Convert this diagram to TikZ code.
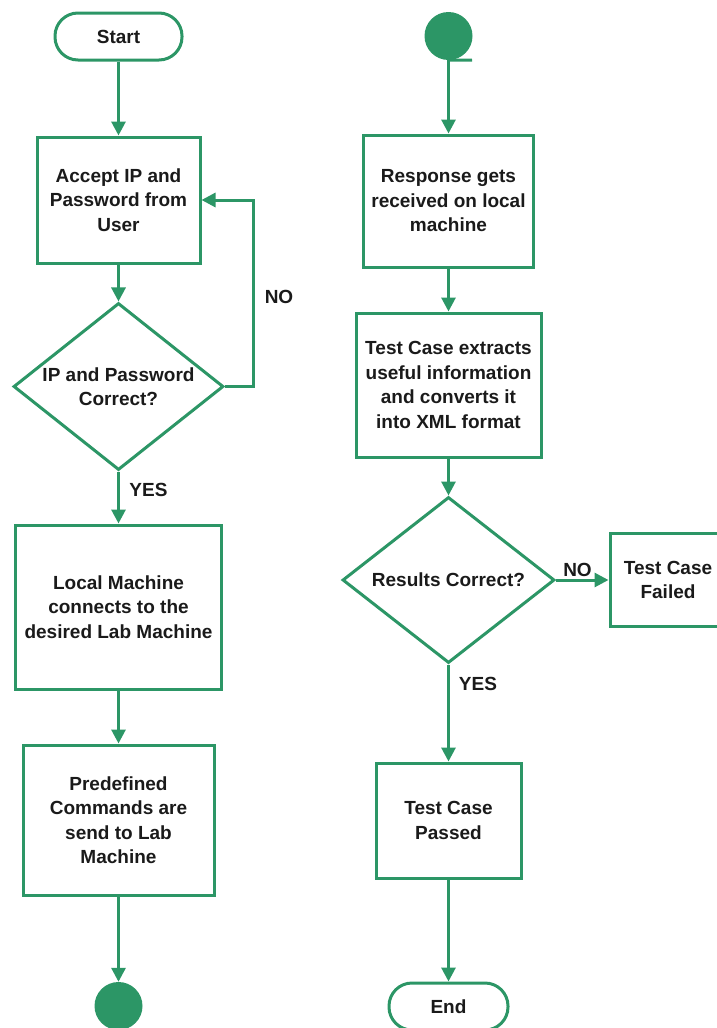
\documentclass[tikz,border=0pt]{standalone}
\usepackage{fontspec}
\setmainfont{Liberation Sans}
\usetikzlibrary{arrows.meta,shapes.geometric}
\definecolor{flowgreen}{RGB}{44,150,102}
\definecolor{ink}{RGB}{26,26,26}
\begin{document}
\begin{tikzpicture}[x=1pt,y=-1pt,
  every node/.style={font=\fontsize{19}{24.5}\selectfont\bfseries, text=ink},
  stepbox/.style={draw=flowgreen, line width=3pt, rectangle, inner sep=0pt, align=center},
  decision/.style={draw=flowgreen, line width=3pt, diamond, inner sep=0pt, align=center},
  terminal/.style={draw=flowgreen, line width=3pt, rectangle, rounded corners=23pt,
    minimum height=47pt, inner sep=0pt},
  connector/.style={fill=flowgreen, circle, minimum size=48pt, inner sep=0pt},
  flow/.style={draw=flowgreen, line width=3pt, -{Triangle[length=14pt,width=14pt]}},
  plain/.style={draw=flowgreen, line width=3pt},
  tag/.style={inner sep=0pt}]
\useasboundingbox (0,0) rectangle (717,1028);
\clip (0,0) rectangle (717,1028);

% left column
\node[terminal, minimum width=127pt] (start) at (118.5,36.5) {Start};
\node[stepbox, minimum width=163pt, minimum height=126pt] (accept) at (118.5,200)
  {Accept IP and\\Password from\\User};
\node[decision, minimum width=210pt, minimum height=167pt] (check) at (118.5,386.5)
  {\makebox[0pt]{IP and Password}\\\makebox[0pt]{Correct?}};
\node[stepbox, minimum width=206pt, minimum height=164pt] (connect) at (118.5,607)
  {Local Machine\\connects to the\\desired Lab Machine};
\node[stepbox, minimum width=191pt, minimum height=150pt] (send) at (118.5,820)
  {Predefined\\Commands are\\send to Lab\\Machine};
\node[connector] (outA) at (118.5,1006) {};

% right column
\node[connector] (inA) at (448.5,36) {};
\node[stepbox, minimum width=170pt, minimum height=132pt] (receive) at (448.5,201)
  {Response gets\\received on local\\machine};
\node[stepbox, minimum width=185pt, minimum height=144pt] (extract) at (448.5,385)
  {Test Case extracts\\useful information\\and converts it\\into XML format};
\node[decision, minimum width=212pt, minimum height=166pt] (result) at (448.5,580)
  {\makebox[0pt]{Results Correct?}};
\node[stepbox, minimum width=116pt, minimum height=93pt] (failed) at (668,580)
  {Test Case\\Failed};
\node[stepbox, minimum width=145pt, minimum height=115pt] (passed) at (448.5,820.5)
  {Test Case\\Passed};
\node[terminal, minimum width=119pt] (finish) at (448.5,1006.5) {End};

% branch labels
\node[tag] (noA) at (279,297) {NO};
\node[tag] (yesA) at (148.5,490) {YES};
\node[tag] (noB) at (577.5,570) {NO};
\node[tag] (yesB) at (478,684) {YES};

% connectors, left column
\draw[flow] (start) -- (accept);
\draw[flow] (accept) -- (check);
\coordinate (retry) at (253,386.5);
\draw[flow] (check.east) -- (retry) |- (accept.east);
\draw[flow] (check) -- (connect);
\draw[flow] (connect) -- (send);
\draw[flow] (send) -- (outA);

% connectors, right column
\coordinate (tail) at (472,60);
\draw[plain] (inA.south) -- (tail);
\draw[flow] (inA) -- (receive);
\draw[flow] (receive) -- (extract);
\draw[flow] (extract) -- (result);
\draw[flow] (result.east) -- (failed.west);
\draw[flow] (result) -- (passed);
\draw[flow] (passed) -- (finish);
\end{tikzpicture}
\end{document}
